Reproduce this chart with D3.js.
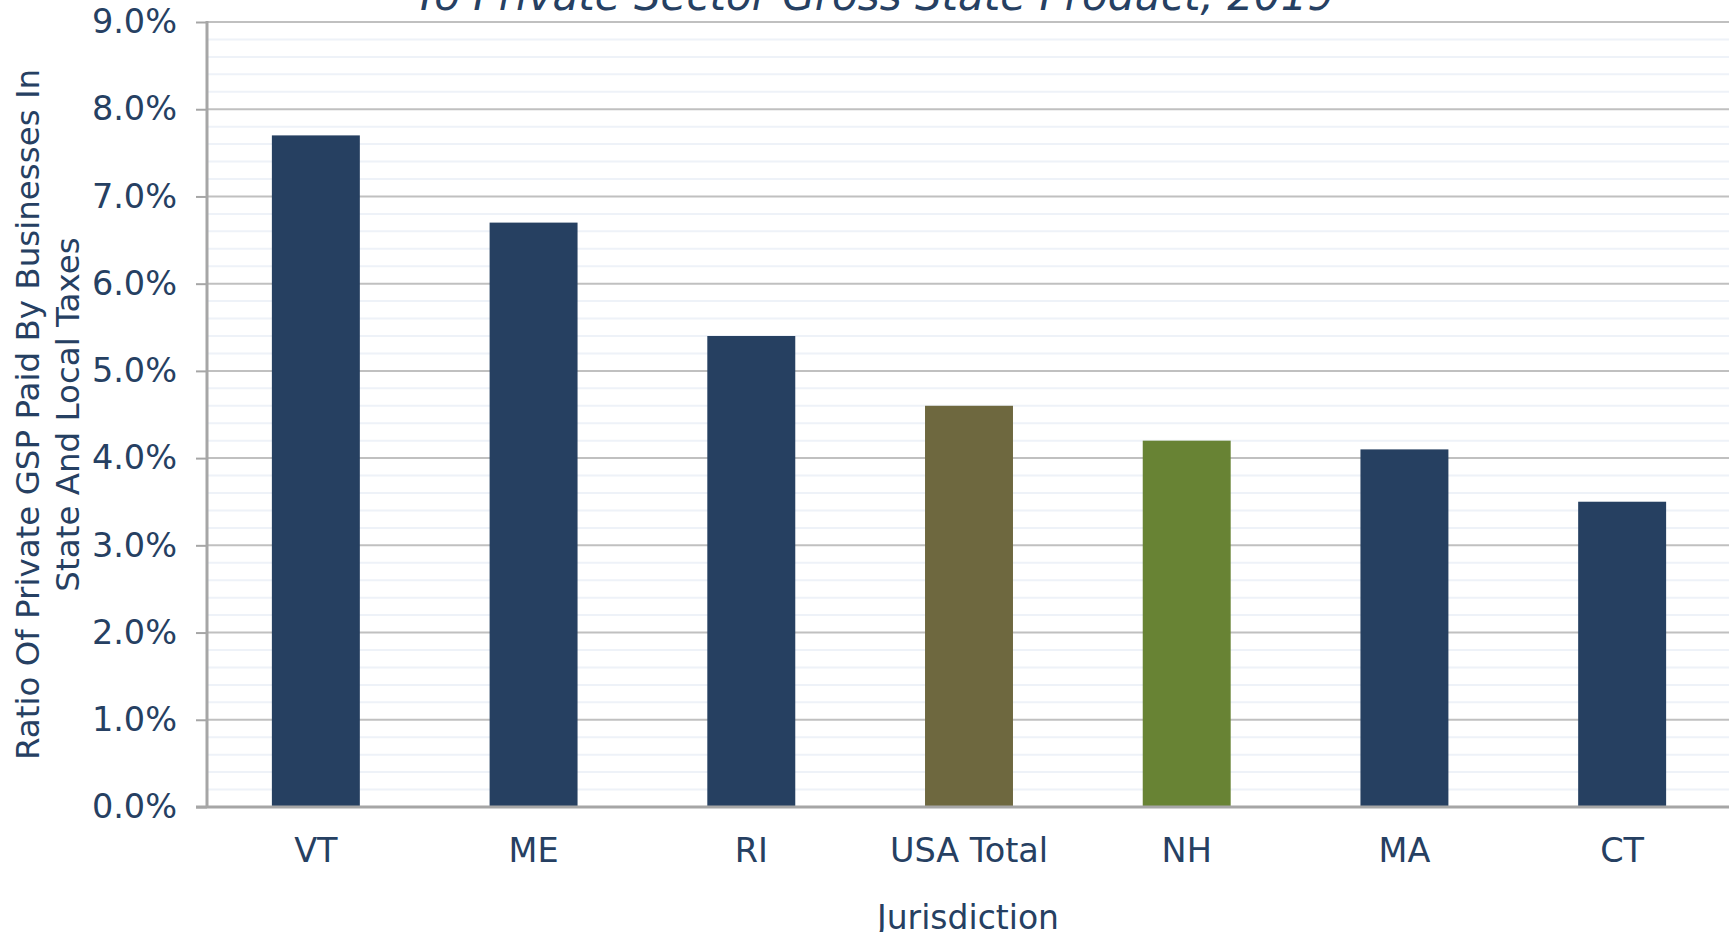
<!DOCTYPE html>
<html>
<head>
<meta charset="utf-8">
<script src="https://cdn.jsdelivr.net/npm/d3@7"></script>
<style>
  html, body { margin: 0; padding: 0; background: #fff; overflow: hidden; }
  text { font-family: "DejaVu Sans", Verdana, sans-serif; fill: #264062; }
</style>
</head>
<body>
<script>
// data
const jurisdictions = ["VT", "ME", "RI", "USA Total", "NH", "MA", "CT"];
const taxRatio = [7.7, 6.7, 5.4, 4.6, 4.2, 4.1, 3.5];
const barColors = ["#264061", "#264061", "#264061", "#6e683f", "#688334", "#264061", "#264061"];
const yTicks = [0, 1, 2, 3, 4, 5, 6, 7, 8, 9];

const W = 1729, H = 932;
const svg = d3.select("body").append("svg")
    .attr("width", W)
    .attr("height", H);

const margin = {top: 22, right: 0, bottom: 125, left: 207};

const x = d3.scaleBand()
    .domain(jurisdictions)
    .range([margin.left, W - margin.right + 2])
    .paddingInner(0.596)
    .paddingOuter(0.298);

const y = d3.scaleLinear()
    .domain([0, 9])
    .range([H - margin.bottom, margin.top]);

// minor gridlines (every 0.2%)
const minor = d3.range(0, 45).map(i => i / 5).filter(v => Math.abs(v - Math.round(v)) > 0.01);
svg.append("g")
    .selectAll("line")
    .data(minor)
    .join("line")
    .attr("x1", margin.left)
    .attr("x2", W)
    .attr("y1", d => y(d))
    .attr("y2", d => y(d))
    .attr("stroke", "#eef2f8")
    .attr("stroke-width", 2);

// major gridlines
svg.append("g")
    .selectAll("line")
    .data(yTicks.slice(1))
    .join("line")
    .attr("x1", margin.left)
    .attr("x2", W)
    .attr("y1", d => y(d))
    .attr("y2", d => y(d))
    .attr("stroke", "#c0c0c0")
    .attr("stroke-width", 2);

// bars
svg.append("g")
    .selectAll("rect")
    .data(jurisdictions)
    .join("rect")
    .attr("x", d => x(d))
    .attr("width", x.bandwidth())
    .attr("y", (d, i) => y(taxRatio[i]))
    .attr("height", (d, i) => y(0) - y(taxRatio[i]))
    .attr("fill", (d, i) => barColors[i]);

// y axis
const yAxis = svg.append("g")
    .attr("transform", `translate(${margin.left},0)`)
    .call(d3.axisLeft(y).tickValues(yTicks).tickSize(11).tickPadding(19)
        .tickFormat(d => d.toFixed(1) + "%"));
yAxis.select(".domain").remove();
yAxis.selectAll(".tick line").attr("stroke", "#a6a6a6").attr("stroke-width", 2);
yAxis.selectAll(".tick text")
    .attr("font-size", 33.5)
    .attr("fill", "#264062")
    .attr("font-family", "DejaVu Sans, Verdana, sans-serif");

svg.append("line")
    .attr("x1", margin.left).attr("x2", margin.left)
    .attr("y1", y(9) - 1).attr("y2", y(0) + 1)
    .attr("stroke", "#a6a6a6").attr("stroke-width", 3);

// x axis
const xAxis = svg.append("g")
    .attr("transform", `translate(0,${y(0)})`)
    .call(d3.axisBottom(x).tickSize(0).tickPadding(31));
xAxis.select(".domain").remove();
xAxis.selectAll(".tick text")
    .attr("font-size", 33.5)
    .attr("fill", "#264062")
    .attr("font-family", "DejaVu Sans, Verdana, sans-serif");

svg.append("line")
    .attr("x1", margin.left - 11).attr("x2", W)
    .attr("y1", y(0)).attr("y2", y(0))
    .attr("stroke", "#a6a6a6").attr("stroke-width", 3);

// title (lower line visible only)
svg.append("text")
    .attr("x", 874)
    .attr("y", 10)
    .attr("text-anchor", "middle")
    .attr("font-size", 42)
    .attr("font-style", "italic")
    .text("To Private Sector Gross State Product, 2019");

// y axis title
const yTitle = svg.append("text")
    .attr("transform", `translate(28,${(y(0) + y(9)) / 2}) rotate(-90)`)
    .attr("text-anchor", "middle")
    .attr("font-size", 32.5);
yTitle.append("tspan").attr("x", 0).attr("dy", "0.35em")
    .text("Ratio Of Private GSP Paid By Businesses In");
yTitle.append("tspan").attr("x", 0).attr("dy", "1.23em")
    .text("State And Local Taxes");

// x axis title
svg.append("text")
    .attr("x", (margin.left + W) / 2)
    .attr("y", 929)
    .attr("text-anchor", "middle")
    .attr("font-size", 33)
    .text("Jurisdiction");
</script>
</body>
</html>
